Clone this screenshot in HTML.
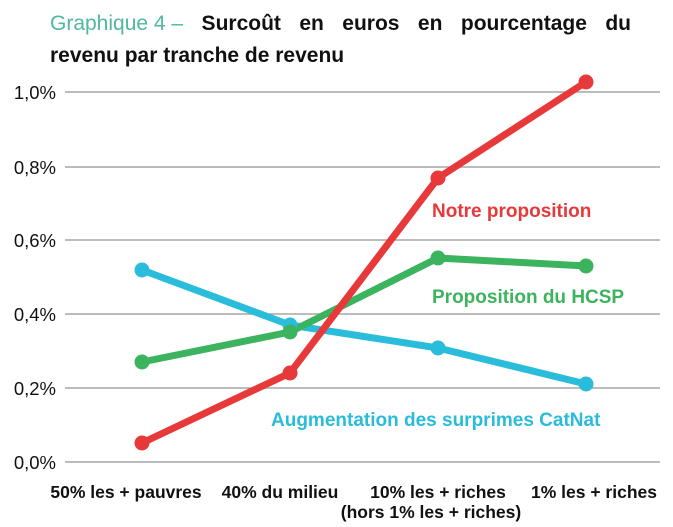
<!DOCTYPE html>
<html><head><meta charset="utf-8"><style>
body{margin:0;background:#fff;width:673px;height:527px;overflow:hidden;font-family:"Liberation Sans",sans-serif}
.t{position:absolute;left:50px;width:581px;font-size:21px;line-height:32px;color:#111;font-weight:bold;white-space:nowrap}
.l1{top:8px;text-align:justify;text-align-last:justify}
.l2{top:40px}
.t span{color:#4fb89e;font-weight:normal;display:inline-block}
</style></head><body>
<div class="t l1"><span>Graphique 4 –</span> Surcoût en euros en pourcentage du</div>
<div class="t l2">revenu par tranche de revenu</div>
<svg width="673" height="527" style="position:absolute;left:0;top:0" font-family="Liberation Sans, sans-serif">
<g stroke="#a6a6a6" stroke-width="1.5">
<line x1="65" x2="660" y1="92" y2="92"/><line x1="65" x2="660" y1="167" y2="167"/>
<line x1="65" x2="660" y1="240" y2="240"/><line x1="65" x2="660" y1="314" y2="314"/>
<line x1="65" x2="660" y1="388" y2="388"/><line x1="65" x2="660" y1="462" y2="462"/>
</g>
<g font-size="18.5" fill="#111" text-anchor="end">
<text x="56" y="99">1,0%</text><text x="56" y="174">0,8%</text><text x="56" y="247">0,6%</text>
<text x="56" y="321">0,4%</text><text x="56" y="395">0,2%</text><text x="56" y="469">0,0%</text>
</g>
<g font-size="17.5" font-weight="bold" fill="#111" text-anchor="middle">
<text x="126" y="498">50% les + pauvres</text><text x="280" y="498">40% du milieu</text>
<text x="438" y="498">10% les + riches</text><text x="431" y="518">(hors 1% les + riches)</text>
<text x="594" y="498">1% les + riches</text>
</g>
<g fill="none" stroke-width="7" stroke-linejoin="round">
<polyline stroke="#29bcdb" points="142,270 290,325 438,348 586,384"/>
<polyline stroke="#3cb35e" points="142,362 290,332 438,258 586,266"/>
<polyline stroke="#e8393a" points="142,443 290,373 438,178 586,82"/>
</g>
<g fill="#29bcdb"><circle cx="142" cy="270" r="7.5"/><circle cx="290" cy="325" r="7.5"/><circle cx="438" cy="348" r="7.5"/><circle cx="586" cy="384" r="7.5"/></g>
<g fill="#3cb35e"><circle cx="142" cy="362" r="7.5"/><circle cx="290" cy="332" r="7.5"/><circle cx="438" cy="258" r="7.5"/><circle cx="586" cy="266" r="7.5"/></g>
<g fill="#e8393a"><circle cx="142" cy="443" r="7.5"/><circle cx="290" cy="373" r="7.5"/><circle cx="438" cy="178" r="7.5"/><circle cx="586" cy="82" r="7.5"/></g>
<g font-size="19" font-weight="bold">
<text x="432" y="217" fill="#e8393a">Notre proposition</text>
<text x="432" y="303" fill="#3cb35e">Proposition du HCSP</text>
<text x="271" y="426" fill="#29bcdb">Augmentation des surprimes CatNat</text>
</g>
</svg>
</body></html>
